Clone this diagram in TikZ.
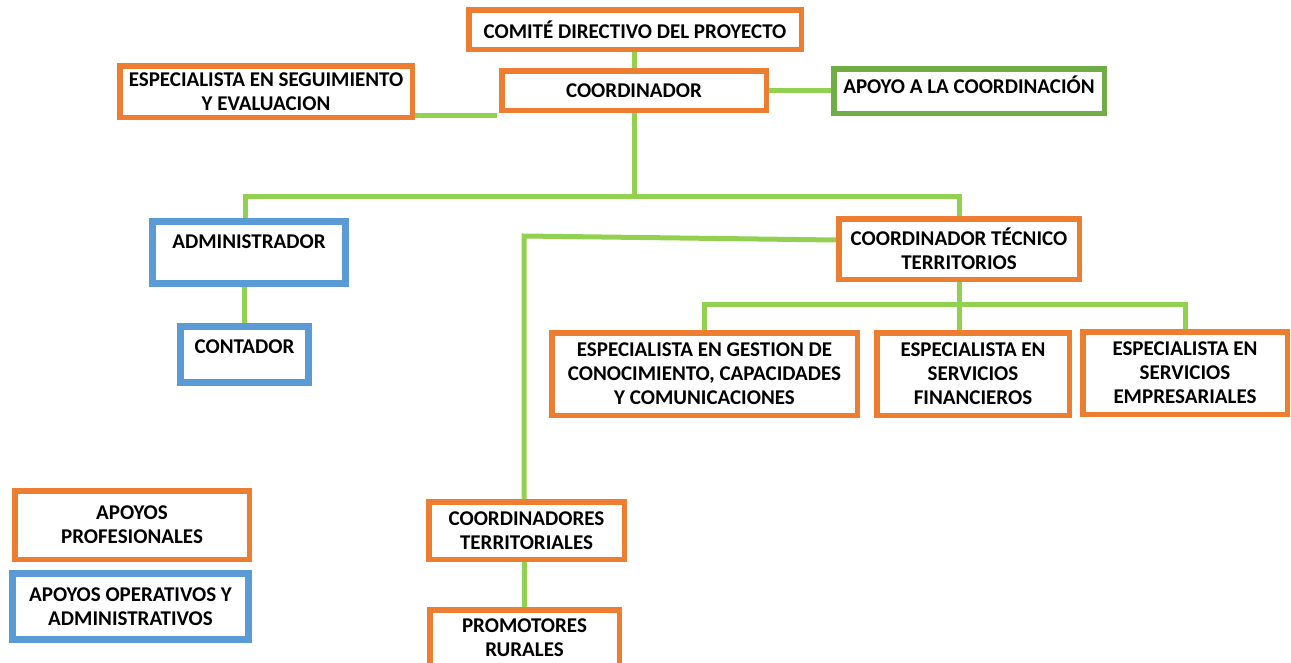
\documentclass[tikz,border=0pt]{standalone}
\usepackage{fontspec}
\setmainfont{Carlito}
\definecolor{naranja}{HTML}{ED7D31}
\definecolor{azul}{HTML}{5B9BD5}
\definecolor{verde}{HTML}{70AD47}
\definecolor{enlace}{HTML}{92D050}
\begin{document}
\begin{tikzpicture}[x=1pt,y=-1pt,
    box/.style={draw=naranja,line width=5.5pt,fill=white,inner sep=2pt,align=center,
      font=\fontsize{21}{24}\selectfont\bfseries},
    blue box/.style={box,draw=azul,line width=7pt},
    green box/.style={box,draw=verde},
    wh/.style 2 args={minimum width=#1,minimum height=#2},
    link/.style={draw=enlace,line width=5pt}]
    \clip (0,0) rectangle (1291,662);
    \node[box,wh={332.5pt}{39.5pt}] (comite) at (635,29.5) {COMITÉ DIRECTIVO DEL PROYECTO};
    \node[box,wh={264.5pt}{39.5pt}] (coord) at (634,90.5) {COORDINADOR};
    \node[box,wh={292.5pt}{51.5pt}] (seg) at (266,91.5) {ESPECIALISTA EN SEGUIMIENTO\\Y EVALUACION};
    \node[green box,wh={270.5pt}{44.5pt},text depth=13pt] (apoyo) at (969,91) {APOYO A LA COORDINACIÓN};
    \node[blue box,wh={193pt}{62pt},text depth=21pt] (admin) at (249,252.5) {ADMINISTRADOR};
    \node[blue box,wh={128pt}{56pt},text depth=15pt] (cont) at (244.5,354.5) {CONTADOR};
    \node[box,wh={240.5pt}{60.5pt}] (tec) at (959,249) {COORDINADOR TÉCNICO\\TERRITORIOS};
    \node[box,wh={305.5pt}{82.5pt}] (gest) at (704.5,374) {ESPECIALISTA EN GESTION DE\\CONOCIMIENTO, CAPACIDADES\\Y COMUNICACIONES};
    \node[box,wh={192.5pt}{82.5pt}] (fin) at (973,374) {ESPECIALISTA EN\\SERVICIOS\\FINANCIEROS};
    \node[box,wh={204.5pt}{82.5pt}] (emp) at (1185,373) {ESPECIALISTA EN\\SERVICIOS\\EMPRESARIALES};
    \node[box,wh={195.5pt}{57.5pt}] (terr) at (526.5,530.5) {COORDINADORES\\TERRITORIALES};
    \node[box,wh={189.5pt}{56.5pt}] (prom) at (524.5,638) {PROMOTORES\\RURALES};
    \node[box,wh={234.5pt}{68.5pt}] (prof) at (132,525) {APOYOS\\PROFESIONALES};
    \node[blue box,wh={236pt}{66pt}] (oper) at (130.5,606.5) {APOYOS OPERATIVOS Y\\ADMINISTRATIVOS};
    % connectors
    \coordinate (segend) at (497,115);
    \coordinate (bus) at (634,196);
    \coordinate (bend) at (524,236);
    \coordinate (subbus) at (959,304);
    \draw[link] (comite.south -| coord.north) -- (coord.north);
    \draw[link] (seg.east |- segend) -- (segend);
    \draw[link] (coord.east) -- (coord.east -| apoyo.west);
    \draw[link] (coord.south) -- (bus);
    \draw[link] ([xshift=-4pt]admin.north) |- (bus) -| (tec.north);
    \draw[link] (admin.south -| cont.north) -- (cont.north);
    \draw[link] ([yshift=9pt]tec.west) -- (bend) -- (bend |- terr.north);
    \draw[link] (tec.south) -- (tec.south |- fin.north);
    \draw[link] (gest.north) |- (subbus) -| (emp.north);
    \draw[link] (terr.south -| prom.north) -- (prom.north);
\end{tikzpicture}
\end{document}
